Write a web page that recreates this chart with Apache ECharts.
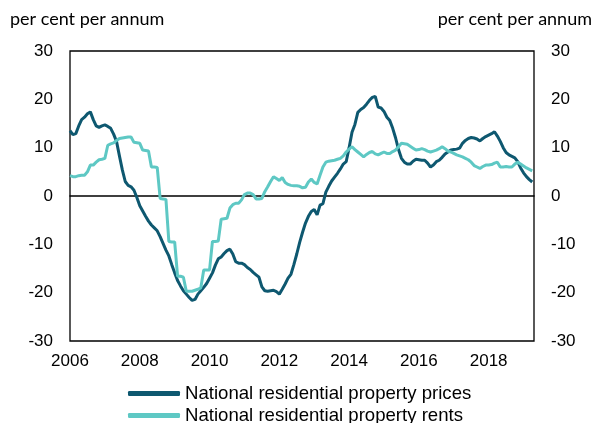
<!DOCTYPE html>
<html><head><meta charset="utf-8">
<script src="https://cdn.jsdelivr.net/npm/echarts@6/dist/echarts.min.js"></script>
<style>html,body{margin:0;padding:0;background:#fff}#c{width:595px;height:423px}</style>
</head><body><div id="c"></div>
<script>
// Monthly data, Jan 2006 - Apr 2019 (per cent per annum)
const startYear = 2006;
const seriesNames = ['National residential property prices', 'National residential property rents'];
const prices = [
  13.5, 12.7, 12.9, 14.5, 15.8, 16.3, 17.0, 17.4, 15.8, 14.5, 14.2, 14.5,
  14.7, 14.4, 14.0, 12.8, 11.3, 8.3, 5.4, 3.0, 2.2, 1.9, 1.2, -0.3,
  -2.0, -3.1, -4.2, -5.2, -6.0, -6.6, -7.2, -8.4, -9.8, -11.2, -12.4, -14.2,
  -15.9, -17.5, -18.6, -19.6, -20.3, -21.0, -21.6, -21.4, -20.3, -19.6, -18.9, -18.1,
  -17.0, -15.9, -14.3, -13.0, -12.6, -11.9, -11.3, -11.0, -12.0, -13.6, -13.9, -13.9,
  -14.2, -14.8, -15.2, -15.8, -16.3, -16.8, -18.8, -19.6, -19.7, -19.6, -19.5, -19.8,
  -20.3, -19.3, -18.2, -17.0, -16.2, -14.2, -12.0, -9.6, -7.5, -5.6, -4.2, -3.2,
  -2.8, -3.9, -1.9, -1.6, 0.8, 2.0, 3.1, 3.9, 4.7, 5.6, 6.6, 7.1,
  10.0, 13.2, 14.8, 17.3, 17.9, 18.3, 19.0, 19.8, 20.4, 20.6, 18.4, 18.2,
  17.5, 16.3, 15.6, 14.0, 12.0, 9.6, 7.8, 7.0, 6.6, 6.6, 7.2, 7.6,
  7.5, 7.4, 7.4, 6.8, 6.0, 6.4, 7.1, 7.4, 8.0, 8.7, 9.1, 9.5,
  9.6, 9.7, 9.9, 10.9, 11.5, 11.9, 12.1, 12.0, 11.8, 11.4, 11.9, 12.3,
  12.6, 12.9, 13.3, 12.4, 11.3, 10.0, 9.0, 8.5, 8.2, 7.9, 7.1, 5.8,
  4.8, 4.0, 3.4, 2.9
];
const rents = [
  4.2, 4.0, 4.0, 4.2, 4.3, 4.3, 5.0, 6.4, 6.4, 7.0, 7.5, 7.6,
  7.8, 10.5, 10.8, 11.0, 11.5, 11.9, 12.0, 12.1, 12.2, 12.2, 11.1, 11.0,
  10.9, 9.5, 9.4, 9.3, 6.0, 6.0, 5.9, -0.5, -0.6, -0.7, -9.4, -9.5,
  -9.5, -16.6, -16.6, -16.8, -19.7, -19.7, -19.7, -19.5, -19.3, -19.0, -15.3, -15.3,
  -15.3, -9.4, -9.4, -9.3, -4.8, -4.7, -4.6, -2.5, -1.8, -1.5, -1.5, -0.8,
  0.3, 0.6, 0.6, 0.3, -0.6, -0.6, -0.5, 0.9, 1.9, 3.0, 4.0, 3.6,
  3.2, 3.8, 2.8, 2.4, 2.2, 2.1, 2.1, 2.0, 1.7, 1.8, 2.9, 3.5,
  2.8, 2.5, 4.3, 6.0, 7.0, 7.2, 7.3, 7.4, 7.6, 7.8, 8.3, 9.1,
  9.7, 10.2, 9.6, 9.1, 8.6, 8.1, 8.6, 9.0, 9.2, 8.7, 8.5, 8.8,
  9.1, 8.8, 8.8, 9.2, 9.5, 10.2, 10.9, 10.8, 10.7, 10.3, 9.9, 9.5,
  9.6, 9.8, 9.6, 9.3, 9.1, 9.3, 9.5, 9.8, 10.2, 9.8, 9.3, 9.1,
  8.8, 8.5, 8.3, 8.1, 7.8, 7.5, 7.0, 6.3, 6.0, 5.7, 6.1, 6.4,
  6.4, 6.5, 6.8, 7.0, 6.0, 6.0, 6.1, 6.0, 6.0, 6.6, 7.0, 6.6,
  6.2, 5.8, 5.5, 5.2
];
const xMin = 2006, xMax = 2019.3, xStep = 2;
const yMin = -30, yMax = 30, yStep = 10;
const axisTitle = 'per cent per annum';

const toPairs = arr => arr.map((v, i) => [startYear + i / 12, v]);

const chart = echarts.init(document.getElementById('c'), null, {renderer: 'canvas'});
const tickFont = {fontFamily: 'Liberation Sans, Arial, sans-serif', fontSize: 17, color: '#000'};
const yAxisBase = {
  type: 'value', min: yMin, max: yMax, interval: yStep,
  axisLine: {show: false}, axisTick: {show: false}, splitLine: {show: false},
  axisLabel: Object.assign({margin: 17}, tickFont)
};
chart.setOption({
  animation: false,
  backgroundColor: '#fff',
  grid: {left: 70, right: 61, top: 51, bottom: 82, show: true, borderColor: '#000', borderWidth: 1.3, backgroundColor: 'transparent'},
  graphic: [
    {type: 'text', left: 10, top: 10, style: {text: axisTitle, font: '18px Lato, sans-serif', fill: '#000'}},
    {type: 'text', right: 3, top: 10, style: {text: axisTitle, font: '18px Lato, sans-serif', fill: '#000'}}
  ],
  legend: {
    orient: 'vertical', left: 128, top: 384, height: 80, itemWidth: 52, itemHeight: 5, itemGap: 3,
    icon: 'roundRect', padding: 0,
    textStyle: {fontFamily: 'Liberation Sans, Arial, sans-serif', fontSize: 18.6, color: '#000'},
    data: seriesNames
  },
  xAxis: [{
    type: 'value', min: xMin, max: xMax, interval: xStep,
    axisLine: {show: false}, axisTick: {show: false}, splitLine: {show: false},
    axisLabel: Object.assign({margin: 12, showMaxLabel: false, formatter: v => String(v)}, tickFont)
  }, {
    type: 'value', min: xMin, max: xMax, position: 'bottom',
    axisLine: {show: true, onZero: true, lineStyle: {color: '#000', width: 1.5}},
    axisTick: {show: false}, axisLabel: {show: false}, splitLine: {show: false}
  }],
  yAxis: [
    Object.assign({position: 'left'}, yAxisBase),
    Object.assign({position: 'right'}, yAxisBase)
  ],
  series: [
    {name: seriesNames[0], type: 'line', data: toPairs(prices), showSymbol: false, symbol: 'none',
     lineStyle: {color: '#0E5870', width: 3}, itemStyle: {color: '#0E5870'}},
    {name: seriesNames[1], type: 'line', data: toPairs(rents), showSymbol: false, symbol: 'none',
     lineStyle: {color: '#5EC8C4', width: 3}, itemStyle: {color: '#5EC8C4'}}
  ]
});
</script>
</body></html>
